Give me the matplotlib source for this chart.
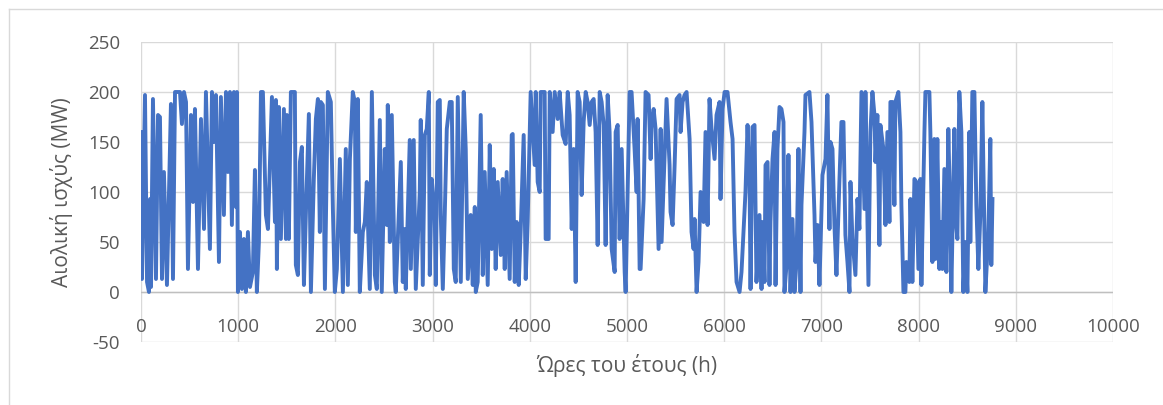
import matplotlib
matplotlib.use('Agg')
import matplotlib.pyplot as plt
from matplotlib.lines import Line2D

# Hourly wind power over the year
hours_jan_feb = [0, 10, 41, 62, 82, 93, 103, 123, 154, 175, 195, 216, 236, 267, 308, 329, 350, 401, 421, 442,
                 463, 483, 514, 535, 555, 586, 617, 648, 668, 709, 730, 750, 771, 802, 822, 853, 874, 894, 915, 935,
                 956, 977, 987, 997, 1018, 1038, 1059, 1079, 1100, 1121, 1151, 1172, 1192, 1213, 1234]
power_jan_feb = [160, 13, 197, 10, 0, 93, 5, 193, 13, 177, 175, 13, 120, 7, 188, 13, 200, 200, 168, 200,
                 190, 23, 177, 90, 183, 23, 173, 63, 200, 43, 200, 150, 197, 30, 195, 77, 200, 120, 200, 67,
                 200, 85, 200, 0, 60, 3, 53, 0, 60, 5, 20, 122, 0, 50, 200]

hours_feb_apr = [1254, 1285, 1306, 1347, 1378, 1388, 1398, 1419, 1439, 1470, 1491, 1501, 1521, 1542, 1583, 1593, 1614, 1635, 1655, 1676,
                 1696, 1727, 1748, 1778, 1799, 1820, 1840, 1850, 1871, 1892, 1922, 1953, 1974, 1994, 2015, 2046, 2077, 2107, 2128, 2149,
                 2179, 2200, 2210, 2231, 2251, 2282, 2303, 2323, 2354, 2375, 2406, 2426, 2457, 2477, 2508, 2529]
power_feb_apr = [200, 77, 63, 195, 70, 192, 23, 185, 53, 183, 53, 177, 53, 200, 200, 27, 17, 130, 145, 7,
                 77, 178, 0, 113, 173, 193, 60, 190, 187, 3, 200, 190, 83, 0, 23, 133, 0, 143, 7, 133,
                 200, 190, 60, 193, 0, 60, 70, 110, 3, 200, 17, 3, 172, 0, 143, 67]

hours_apr_jun = [2539, 2560, 2580, 2611, 2621, 2673, 2693, 2714, 2724, 2765, 2776, 2806, 2827, 2868, 2878, 2899, 2920, 2940, 2961, 2971,
                 2991, 3022, 3033, 3053, 3074, 3084, 3105, 3125, 3146, 3177, 3197, 3218, 3238, 3259, 3290, 3320, 3341, 3362, 3392, 3413,
                 3434, 3444, 3464, 3495, 3516, 3536, 3567, 3588, 3608, 3629, 3649, 3670, 3701, 3721, 3742, 3762, 3793, 3814]
power_apr_jun = [187, 50, 177, 10, 0, 130, 10, 63, 3, 152, 23, 152, 3, 100, 172, 7, 157, 163, 200, 17,
                 113, 77, 7, 190, 192, 77, 3, 77, 163, 190, 190, 23, 10, 195, 10, 200, 143, 13, 77, 7,
                 85, 0, 10, 177, 17, 120, 7, 147, 43, 123, 23, 110, 37, 113, 23, 120, 13, 157]

hours_jun_jul = [3824, 3845, 3865, 3886, 3906, 3937, 3958, 3978, 3999, 4009, 4050, 4061, 4081, 4102, 4112, 4153, 4163, 4194, 4205, 4235,
                 4256, 4287, 4307, 4338, 4369, 4390, 4410, 4431, 4451, 4472, 4492, 4513, 4533, 4554, 4575, 4595, 4616, 4636, 4657, 4677,
                 4698, 4719, 4739, 4760, 4780, 4801, 4821, 4842, 4873, 4883, 4904, 4924, 4945, 4976, 4986, 5006, 5027, 5047, 5078, 5099]
power_jun_jul = [158, 10, 70, 7, 60, 157, 13, 70, 157, 200, 127, 200, 110, 100, 200, 200, 53, 53, 200, 160,
                 200, 173, 200, 157, 148, 200, 177, 63, 143, 10, 200, 190, 97, 170, 200, 190, 167, 190, 193, 160,
                 47, 200, 190, 167, 47, 197, 160, 43, 20, 160, 167, 53, 143, 20, 0, 100, 200, 200, 143, 100]

hours_aug_sep = [5109, 5130, 5140, 5171, 5191, 5222, 5243, 5253, 5274, 5294, 5325, 5346, 5356, 5387, 5407, 5438, 5448, 5469, 5490, 5510,
                 5541, 5551, 5572, 5592, 5613, 5644, 5664, 5685, 5695, 5716, 5736, 5757, 5788, 5808, 5829, 5849, 5870, 5901, 5921, 5952,
                 5962, 5983, 6004, 6034, 6065, 6086, 6106, 6127, 6158, 6178, 6199, 6219, 6240, 6261, 6271, 6291, 6312, 6332, 6363, 6384]
power_aug_sep = [173, 23, 23, 93, 200, 197, 133, 170, 183, 163, 43, 163, 50, 137, 193, 127, 80, 67, 127, 193,
                 197, 160, 190, 197, 200, 153, 60, 43, 73, 0, 30, 100, 70, 160, 67, 193, 163, 133, 177, 190,
                 93, 183, 200, 200, 170, 153, 60, 10, 0, 20, 60, 100, 167, 110, 3, 165, 167, 10, 77, 3]

hours_sep_nov = [6394, 6415, 6425, 6446, 6466, 6476, 6497, 6518, 6528, 6548, 6569, 6589, 6610, 6620, 6641, 6661, 6682, 6703, 6723, 6744,
                 6764, 6785, 6795, 6826, 6836, 6877, 6898, 6929, 6939, 6960, 6980, 7011, 7042, 7062, 7083, 7093, 7114, 7134, 7155, 7186,
                 7206, 7227, 7247, 7268, 7289, 7299, 7319, 7350, 7371, 7391, 7412, 7443, 7453, 7484, 7504, 7525, 7546, 7556, 7576, 7597,
                 7607, 7638, 7659]
power_sep_nov = [70, 10, 127, 130, 7, 70, 133, 160, 7, 143, 185, 183, 170, 0, 27, 137, 0, 73, 0, 30,
                 143, 0, 87, 160, 197, 200, 170, 77, 30, 67, 7, 117, 133, 197, 63, 150, 143, 67, 17, 113,
                 170, 170, 57, 30, 0, 110, 53, 17, 93, 63, 200, 83, 200, 7, 160, 200, 177, 130, 177, 47,
                 167, 143, 67]

hours_nov_dec = [7679, 7700, 7710, 7731, 7751, 7761, 7792, 7813, 7823, 7844, 7864, 7874, 7905, 7916, 7936, 7957, 7977, 7998, 8018, 8029,
                 8060, 8070, 8111, 8121, 8142, 8162, 8173, 8193, 8214, 8224, 8245, 8265, 8286, 8306, 8327, 8337, 8368, 8378, 8399, 8419,
                 8440, 8460, 8481, 8502, 8522, 8532, 8553, 8574, 8594, 8615, 8635, 8656, 8676, 8687, 8717, 8738, 8748, 8760]
power_nov_dec = [160, 70, 190, 190, 87, 190, 200, 160, 87, 0, 0, 30, 10, 93, 10, 113, 110, 23, 113, 7,
                 160, 200, 200, 160, 30, 153, 33, 153, 23, 70, 23, 123, 20, 163, 67, 0, 163, 77, 53, 200,
                 160, 0, 50, 0, 160, 50, 200, 200, 87, 23, 77, 190, 70, 0, 57, 153, 27, 93]

hours = hours_jan_feb + hours_feb_apr + hours_apr_jun + hours_jun_jul + hours_aug_sep + hours_sep_nov + hours_nov_dec
power = power_jan_feb + power_feb_apr + power_apr_jun + power_jun_jul + power_aug_sep + power_sep_nov + power_nov_dec

x_ticks = list(range(0, 10001, 1000))
y_ticks = list(range(-50, 251, 50))

plt.rcParams['font.family'] = ['Open Sans', 'DejaVu Sans']
plt.rcParams['axes.unicode_minus'] = False
text_grey = '#595959'
grid_grey = '#d9d9d9'

fig = plt.figure(figsize=(11.63, 4.05), dpi=100)
ax = fig.add_axes([141 / 1163, 1 - 342 / 405, 972 / 1163, 300 / 405])

ax.plot(hours, power, color='#4472C4', linewidth=2.8, solid_joinstyle='round')

ax.set_xlim(0, 10000)
ax.set_ylim(-50, 250)
ax.set_xticks(x_ticks)
ax.set_yticks(y_ticks)
ax.grid(True, color=grid_grey, linewidth=1.0)
ax.set_axisbelow(True)
for side in ax.spines:
    ax.spines[side].set_visible(False)

# horizontal axis line crosses at zero
ax.axhline(0, color='#bfbfbf', linewidth=1.0, zorder=1)

ax.tick_params(axis='both', length=0, labelsize=13.5, labelcolor=text_grey)
ax.tick_params(axis='y', pad=15)
ax.tick_params(axis='x', pad=-17.5)

ax.set_xlabel('Ώρες του έτους (h)', fontsize=15, color=text_grey)
ax.xaxis.set_label_coords(0.5, -0.04)
ax.set_ylabel('Αιολική ισχύς (MW)', fontsize=15, color=text_grey)
ax.yaxis.set_label_coords(-0.07, 0.5)

# chart area border
fig.add_artist(Line2D([8.5 / 1163, 8.5 / 1163], [0, 1 - 8.5 / 405], color=grid_grey, linewidth=1.0))
fig.add_artist(Line2D([8.5 / 1163, 1], [1 - 8.5 / 405, 1 - 8.5 / 405], color=grid_grey, linewidth=1.0))

fig.savefig('out.png', dpi=100)
plt.close(fig)
